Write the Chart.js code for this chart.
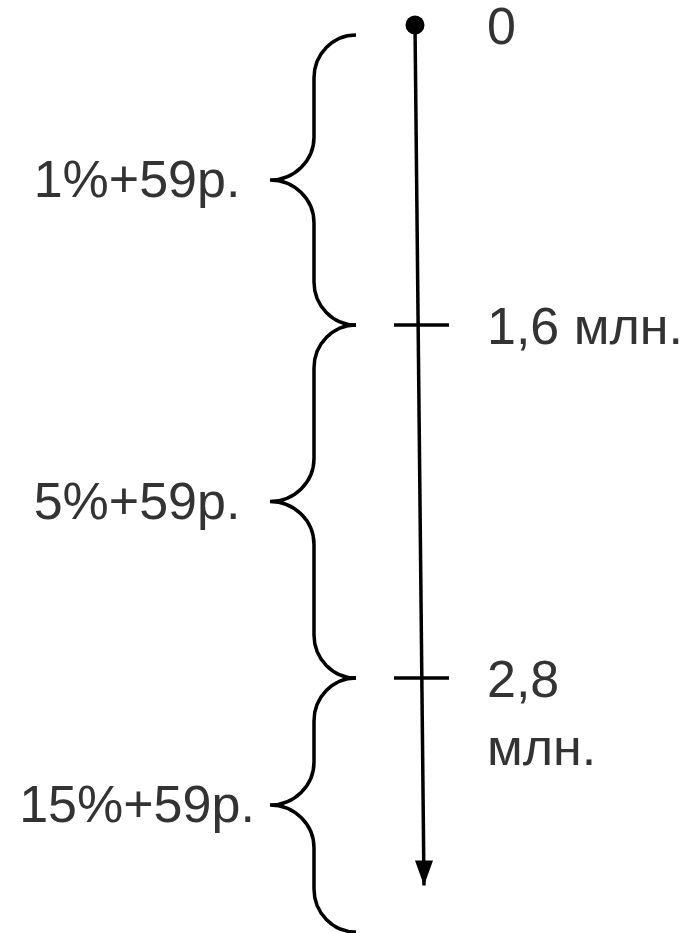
<!DOCTYPE html>
<html>
<head>
<meta charset="utf-8">
<script src="https://cdn.jsdelivr.net/npm/chart.js@4/dist/chart.umd.min.js"></script>
<style>
  html, body { margin: 0; padding: 0; background: #ffffff; }
  #wrap { width: 694px; height: 933px; position: relative; }
</style>
</head>
<body>
<div id="wrap"><canvas id="c"></canvas></div>
<script>
// ---- data ----
const thresholds = [0, 1.6, 2.8];                       // млн. руб.
const thresholdLabels = ['0', '1,6 млн.', ['2,8', 'млн.']];
const rateLabels = ['1%+59р.', '5%+59р.', '15%+59р.'];
const axisEnd = 3.78;     // arrow tip value (open-ended band)
const bandEnd = 4.0;      // end of last band

// ---- schematic (non-linear) vertical layout: value -> pixel at design height ----
const designHeight = 933;
const knots = [[0, 25], [1.6, 325], [2.8, 678], [4.0, 932]];

class SchematicScale extends Chart.LinearScale {
  static id = 'schematic';
  static defaults = {};
  getPixelForValue(value) {
    let i = 0;
    while (i < knots.length - 2 && value > knots[i + 1][0]) i++;
    const [v0, p0] = knots[i], [v1, p1] = knots[i + 1];
    const p = p0 + (value - v0) * (p1 - p0) / (v1 - v0);
    return this.top + p * (this.bottom - this.top) / designHeight;
  }
  getValueForPixel(pixel) {
    const p = (pixel - this.top) * designHeight / (this.bottom - this.top);
    let i = 0;
    while (i < knots.length - 2 && p > knots[i + 1][1]) i++;
    const [v0, p0] = knots[i], [v1, p1] = knots[i + 1];
    return v0 + (p - p0) * (v1 - v0) / (p1 - p0);
  }
}
Chart.register(SchematicScale);

const look = {
  axisTopX: 415, axisBottomX: 424, tickX: 421.5, tickHalf: 27.5,
  braceEndX: 356, braceStemX: 314, braceTipX: 270, braceR: 43, braceTopInset: 10,
  labelX: 487, rateX: 137,
  font: '52px "Liberation Sans", Arial, sans-serif',
  textColor: '#333333', ink: '#000000', lw: 3.5
};

const annotate = {
  id: 'annotate',
  afterDatasetsDraw(chart) {
    const ctx = chart.ctx, y = chart.scales.y, x = chart.scales.x;
    ctx.save();
    // arrow head
    const tipY = y.getPixelForValue(axisEnd), tipX = x.getPixelForValue(look.axisBottomX);
    ctx.fillStyle = look.ink;
    ctx.beginPath();
    ctx.moveTo(tipX, tipY);
    ctx.lineTo(tipX - 9, tipY - 25);
    ctx.lineTo(tipX + 9, tipY - 25);
    ctx.closePath();
    ctx.fill();

    // braces
    ctx.strokeStyle = look.ink;
    ctx.lineWidth = look.lw;
    ctx.lineCap = 'butt';
    const k = 0.5523;
    const xe = x.getPixelForValue(look.braceEndX), xs = x.getPixelForValue(look.braceStemX), xt = x.getPixelForValue(look.braceTipX);
    const r = look.braceR;
    const mids = [];
    for (let i = 0; i < thresholds.length; i++) {
      let y0 = y.getPixelForValue(thresholds[i]);
      if (i === 0) y0 += look.braceTopInset;
      const y1 = y.getPixelForValue(i + 1 < thresholds.length ? thresholds[i + 1] : bandEnd);
      const m = (y0 + y1) / 2;
      mids.push(m);
      ctx.beginPath();
      ctx.moveTo(xe, y0);
      ctx.bezierCurveTo(xe - (xe - xs) * k, y0, xs, y0 + r - r * k, xs, y0 + r);
      ctx.lineTo(xs, m - r);
      ctx.bezierCurveTo(xs, m - r + r * k, xt + (xs - xt) * k, m, xt, m);
      ctx.bezierCurveTo(xt + (xs - xt) * k, m, xs, m + r - r * k, xs, m + r);
      ctx.lineTo(xs, y1 - r);
      ctx.bezierCurveTo(xs, y1 - r + r * k, xe - (xe - xs) * k, y1, xe, y1);
      ctx.stroke();
    }

    // texts
    ctx.font = look.font;
    ctx.fillStyle = look.textColor;
    ctx.textBaseline = 'alphabetic';
    ctx.textAlign = 'left';
    thresholds.forEach((v, i) => {
      const lines = [].concat(thresholdLabels[i]);
      const by = y.getPixelForValue(v) + 19;
      lines.forEach((t, j) => ctx.fillText(t, x.getPixelForValue(look.labelX), by + j * 68));
    });
    ctx.textAlign = 'center';
    rateLabels.forEach((t, i) => ctx.fillText(t, x.getPixelForValue(look.rateX), mids[i] + 17));
    ctx.restore();
  }
};

new Chart(document.getElementById('c'), {
  type: 'line',
  data: {
    datasets: [
      {
        label: 'axis',
        data: [{ x: look.axisTopX, y: thresholds[0] }, { x: look.axisBottomX, y: axisEnd }],
        borderColor: look.ink, borderWidth: look.lw,
        pointRadius: [9.5, 0], pointBackgroundColor: look.ink, pointBorderWidth: 0,
        tension: 0
      },
      {
        label: 'ticks',
        type: 'scatter',
        data: thresholds.slice(1).map(v => ({ x: look.tickX, y: v })),
        pointStyle: 'line', pointRadius: look.tickHalf,
        borderColor: look.ink, pointBorderColor: look.ink, pointBorderWidth: look.lw,
        showLine: false
      }
    ]
  },
  options: {
    responsive: true, maintainAspectRatio: false, animation: false, events: [],
    layout: { padding: 0, autoPadding: false },
    plugins: { legend: { display: false }, tooltip: { enabled: false } },
    scales: {
      x: { type: 'linear', min: 0, max: 694, display: false },
      y: { type: 'schematic', min: 0, max: bandEnd, display: false }
    }
  },
  plugins: [annotate]
});
</script>
</body>
</html>
